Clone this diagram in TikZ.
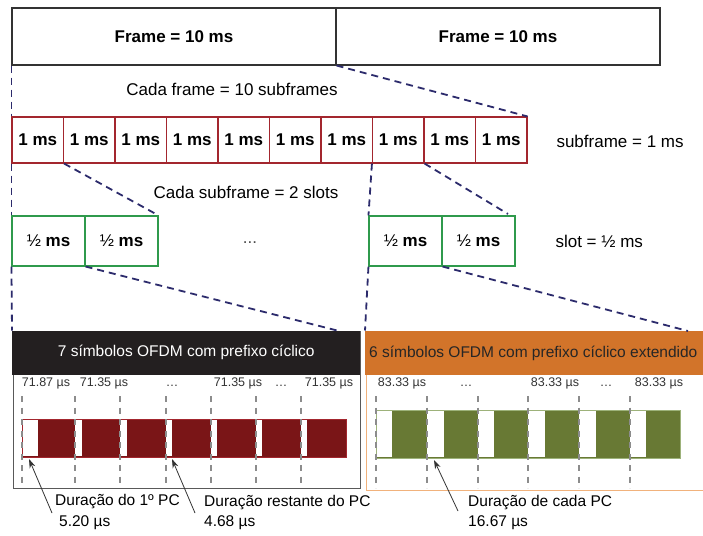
\documentclass[tikz,border=0pt]{standalone}
\usepackage{fontspec}
\setmainfont{Liberation Sans}
\usetikzlibrary{arrows.meta}

\definecolor{framegray}{HTML}{333333}
\definecolor{subred}{HTML}{A3262E}
\definecolor{slotgreen}{HTML}{2F9A4C}
\definecolor{navy}{HTML}{2C2B6C}
\definecolor{hdrblack}{HTML}{231F20}
\definecolor{hdrorange}{HTML}{D2742A}
\definecolor{symred}{HTML}{7A1517}
\definecolor{symgreen}{HTML}{687934}
\definecolor{greenedge}{HTML}{9DB27A}
\definecolor{orangeedge}{HTML}{F1B27C}
\definecolor{guidegray}{HTML}{8C8C8C}
\definecolor{labelgray}{HTML}{333333}

\tikzset{
  big/.style={font=\fontsize{17}{20}\selectfont},
  mid/.style={font=\fontsize{15.5}{18}\selectfont},
  small/.style={font=\fontsize{12.5}{15}\selectfont, text=labelgray},
  framebox/.style={draw=framegray, line width=1.1pt, minimum width=324pt,
    minimum height=57pt, inner sep=0pt, font=\bfseries\fontsize{17}{20}\selectfont},
  sfbox/.style={draw=subred, line width=1.1pt, minimum width=51.5pt,
    minimum height=46pt, inner sep=0pt, font=\bfseries\fontsize{17}{20}\selectfont},
  slotbox/.style={draw=slotgreen, line width=1.1pt, minimum width=73pt,
    minimum height=50pt, inner sep=0pt, font=\fontsize{17}{20}\selectfont},
  zoomline/.style={draw=navy, line width=1.8pt, dash pattern=on 7pt off 5pt},
  guide/.style={draw=guidegray, line width=1.8pt, dash pattern=on 6pt off 5.5pt},
  pointer/.style={draw=black!80, line width=0.8pt, -{Stealth[length=9pt,width=6pt]}},
}

\begin{document}
\begin{tikzpicture}[x=1pt,y=-1pt]
\useasboundingbox[fill=white] (0,0) rectangle (703,535);

% ---- frames ----
\node[framebox] (fr1) at (174,36.5) {Frame = 10 ms};
\node[framebox] (fr2) at (498,36.5) {Frame = 10 ms};

% ---- subframes ----
\foreach \i in {1,...,10}
  \node[sfbox] (sf\i) at ({12+51.5*(\i-0.5)},140) {1 ms};
\node[big, anchor=west] (sflabel) at (553,141) {subframe = 1 ms};
\node[big] (cadaframe) at (232,89) {Cada frame = 10 subframes};

\draw[zoomline] (fr1.south west) -- (sf1.north west);
\draw[zoomline] (fr1.south east) -- (sf10.north east);

% ---- slots ----
\node[slotbox] (sl1) at (48.5,241) {½ \textbf{ms}};
\node[slotbox] (sl2) at (121.5,241) {½ \textbf{ms}};
\node[slotbox] (sl3) at (405.5,241) {½ \textbf{ms}};
\node[slotbox] (sl4) at (478.5,241) {½ \textbf{ms}};
\node[big, text=black!70] (dots) at (250,243) {...};
\node[big, anchor=west] (slotlabel) at (552,241) {slot = ½ ms};
\node[big] (cadasub) at (246,192) {Cada subframe = 2 slots};

\coordinate (slz) at (508,214);
\draw[zoomline] (sf1.south west) -- (sl1.north west);
\draw[zoomline] (sf1.south east) -- (sl2.north east);
\draw[zoomline] (sf8.south west) -- (sl3.north west);
\draw[zoomline] (sf8.south east) -- (slz);

% ---- normal cyclic prefix panel ----
\node[draw=black!65, line width=1.4pt, fill=white, anchor=north west,
      minimum width=347pt, minimum height=157pt, inner sep=0pt] (pL) at (12.5,331) {};
\node[fill=hdrblack, anchor=north west, minimum width=348pt, minimum height=44pt,
      inner sep=0pt, mid, text=white] (hL) at (12,330.5) {7 símbolos OFDM com prefixo cíclico};

% ---- extended cyclic prefix panel (runs past the right edge) ----
\begin{scope}
\clip (0,0) rectangle (703,535);
\node[draw=orangeedge, line width=1.4pt, fill=white, anchor=north west,
      minimum width=360pt, minimum height=159pt, inner sep=0pt] (pR) at (365.5,331) {};
\node[fill=hdrorange, anchor=north west, minimum width=360pt, minimum height=44pt,
      inner sep=0pt] (hR) at (365,330.5) {};
\end{scope}
\node[font=\fontsize{15.5}{18}\selectfont, text=black!85, anchor=west, inner sep=0pt] (hRtext)
  at (369,353) {6 símbolos OFDM com prefixo cíclico extendido};

\coordinate (lz) at (339,331);
\coordinate (rz) at (688,331);
\draw[zoomline] (sl1.south west) -- (hL.north west);
\draw[zoomline] (sl1.south east) -- (lz);
\draw[zoomline] (sl3.south west) -- (hR.north west);
\draw[zoomline] (sl3.south east) -- (rz);

% ---- 7 symbols, normal CP ----
\fill[symred] (22,419) rectangle (346,457);
\foreach \a/\b in {22/38, 75/82, 120/127, 166/172, 211/217, 256/262, 301/307}
  \fill[white] (\a,420) rectangle (\b,456);
\draw[subred, line width=0.8pt] (22,419) rectangle (346,457);
\foreach \x in {22,75,120,166,211,256,301}
  \draw[guide] (\x,396) -- (\x,485);

\node[small] (tL1) at (46,383) {71.87 µs};
\node[small] (tL2) at (104,383) {71.35 µs};
\node[small] (tL3) at (172,386) {…};
\node[small] (tL4) at (238,383) {71.35 µs};
\node[small] (tL5) at (281,386) {…};
\node[small] (tL6) at (329,383) {71.35 µs};

% ---- 6 symbols, extended CP ----
\fill[symgreen] (376,410) rectangle (680,458);
\foreach \a/\b in {376/392, 427/444, 478/494, 528/545, 579/596, 630/646}
  \fill[white] (\a,411) rectangle (\b,457);
\draw[greenedge, line width=0.8pt] (376,410) rectangle (680,458);
\foreach \x in {376,427,478,528,579,630}
  \draw[guide] (\x,396) -- (\x,488);

\node[small] (tR1) at (402,383) {83.33 µs};
\node[small] (tR2) at (466,386) {…};
\node[small] (tR3) at (555,383) {83.33 µs};
\node[small] (tR4) at (606,386) {…};
\node[small] (tR5) at (659,383) {83.33 µs};

% ---- annotations ----
\node[mid, anchor=west, inner sep=0pt] (n1) at (55,502) {Duração do 1º PC};
\node[mid, anchor=west, inner sep=0pt] (n1v) at (59,523) {5.20 µs};
\node[mid, anchor=west, inner sep=0pt] (n2) at (204,503) {Duração restante do PC};
\node[mid, anchor=west, inner sep=0pt] (n2v) at (204,523) {4.68 µs};
\node[mid, anchor=west, inner sep=0pt] (n3) at (468,503) {Duração de cada PC};
\node[mid, anchor=west, inner sep=0pt] (n3v) at (468,523) {16.67 µs};

\coordinate (p1s) at (52,513);  \coordinate (p1e) at (29,459);
\coordinate (p2s) at (195,513); \coordinate (p2e) at (172,459);
\coordinate (p3s) at (458,511); \coordinate (p3e) at (434,460);
\draw[pointer] (p1s) -- (p1e);
\draw[pointer] (p2s) -- (p2e);
\draw[pointer] (p3s) -- (p3e);
\end{tikzpicture}
\end{document}
